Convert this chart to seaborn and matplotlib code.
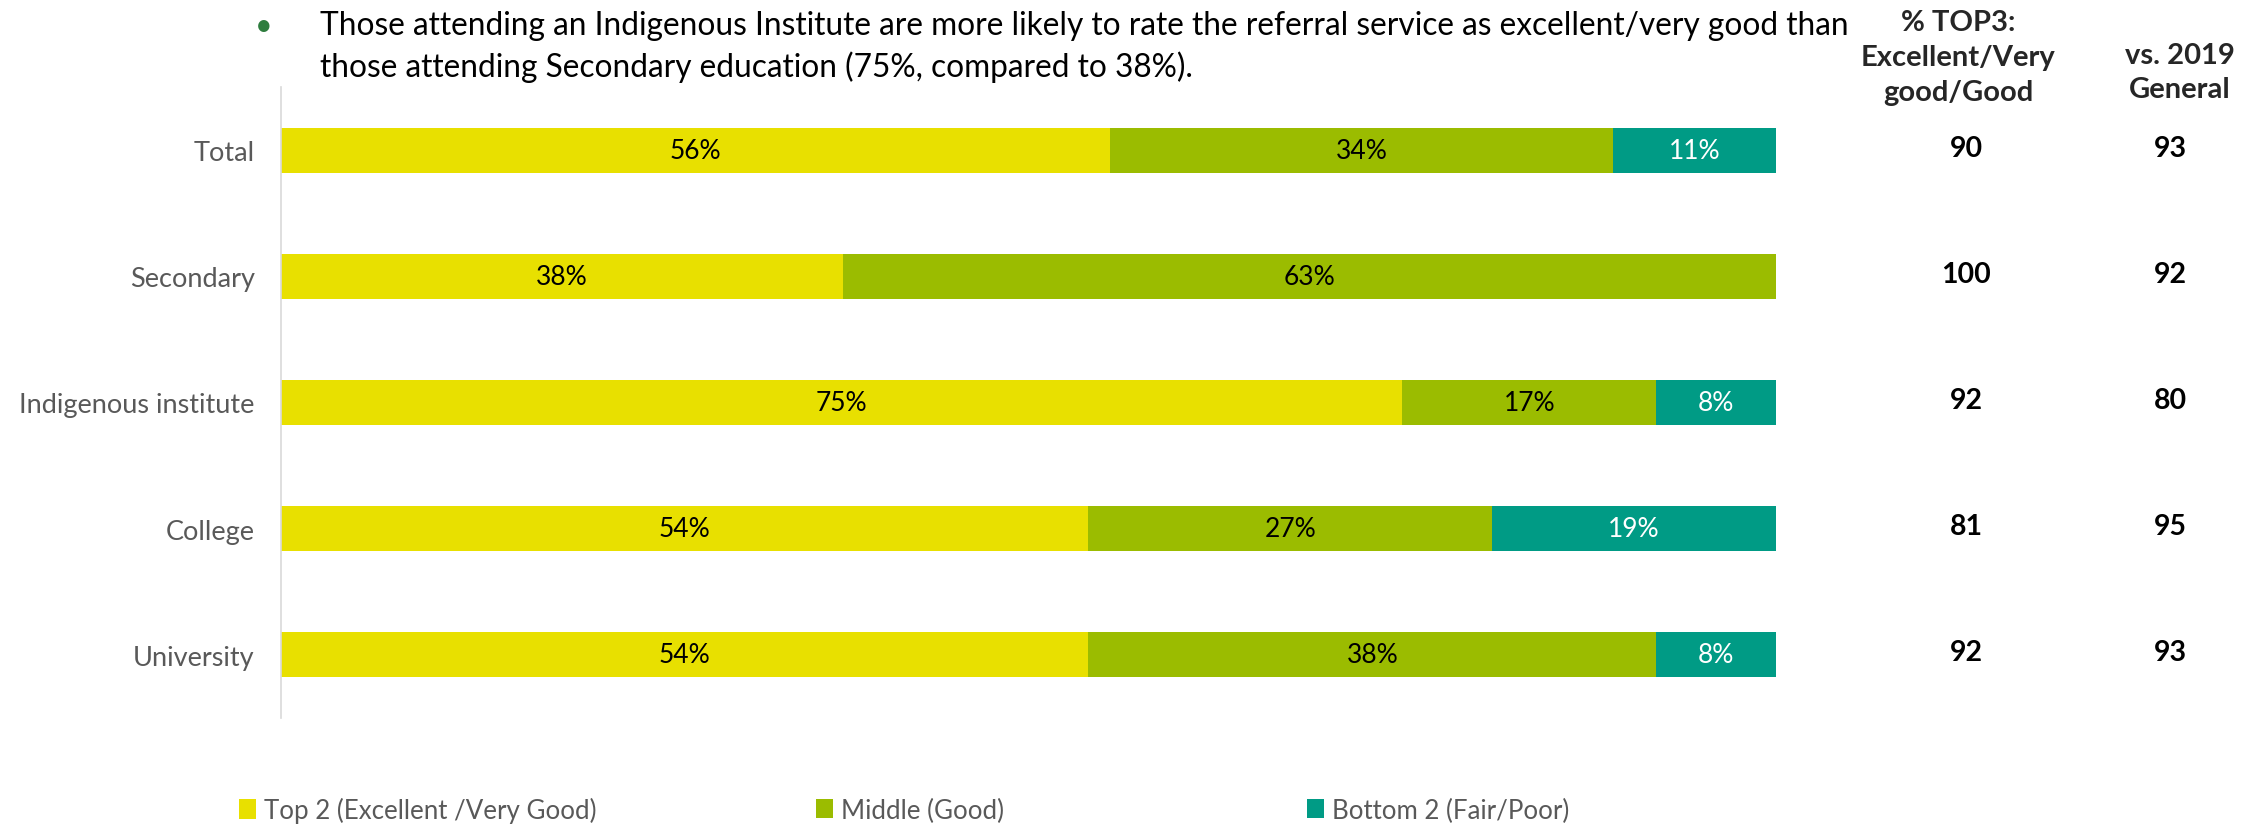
import matplotlib
matplotlib.use("Agg")
import matplotlib.pyplot as plt
import seaborn as sns
import pandas as pd
from matplotlib.patches import Patch
from matplotlib.transforms import blended_transform_factory

# Survey results: share of ratings per education group (in %)
categories = ["Total", "Secondary", "Indigenous institute", "College", "University"]
series_names = ["Top 2 (Excellent /Very Good)", "Middle (Good)", "Bottom 2 (Fair/Poor)"]
top2 = [56, 38, 75, 54, 54]
middle = [34, 63, 17, 27, 38]
bottom2 = [11, 0, 8, 19, 8]
top3_score = [90, 100, 92, 81, 92]
general_2019 = [93, 92, 80, 95, 93]

colors = ["#E8E000", "#9BBC00", "#009B85"]
label_colors = ["black", "black", "white"]

headline = ("Those attending an Indigenous Institute are more likely to rate the referral service as excellent/very good than\n"
            "those attending Secondary education (75%, compared to 38%).")
col1_header = "% TOP3:\nExcellent/Very\ngood/Good"
col2_header = "vs. 2019\nGeneral"

sns.set_theme(style="white")
plt.rcParams["font.family"] = ["Lato", "DejaVu Sans"]

df = pd.DataFrame({"category": categories, "top2": top2, "middle": middle, "bottom2": bottom2})
row_sum = df[["top2", "middle", "bottom2"]].sum(axis=1)
# 100% stacked: each row is scaled to its own total
share = df[["top2", "middle", "bottom2"]].div(row_sum, axis=0) * 100
df["c1"] = share["top2"]
df["c2"] = share["top2"] + share["middle"]
df["c3"] = share["top2"] + share["middle"] + share["bottom2"]

fig = plt.figure(figsize=(22.6, 8.28), dpi=100)
ax = fig.add_axes([281 / 2260, 1 - 719 / 828, (1776 - 281) / 2260, (719 - 88) / 828])

bar_w = 0.355
# draw cumulative totals from the outermost segment inward so each stack reads left to right
for col, c in zip(["c3", "c2", "c1"], colors[::-1]):
    sns.barplot(data=df, x=col, y="category", orient="h", color=c, saturation=1,
                width=bar_w, ax=ax, linewidth=0)

for i in range(len(categories)):
    start = 0.0
    for j, key in enumerate(["top2", "middle", "bottom2"]):
        v = df.loc[i, key]
        w = share.loc[i, key]
        if v > 0:
            ax.text(start + w / 2, i, f"{v}%", ha="center", va="center",
                    fontsize=19, color=label_colors[j])
        start += w

ax.set_xlim(0, 100)
ax.set_ylim(4.5, -0.5)
ax.set_xticks([])
ax.set_xlabel("")
ax.set_ylabel("")
for s in ["top", "right", "bottom"]:
    ax.spines[s].set_visible(False)
ax.spines["left"].set_color("#D9D9D9")
ax.spines["left"].set_linewidth(1.2)
ax.tick_params(axis="y", length=0, pad=19, labelcolor="#595959", labelsize=19.5)

# right-hand summary columns
tr = blended_transform_factory(fig.transFigure, ax.transData)
x1, x2 = 1966 / 2260, 2170 / 2260
for i in range(len(categories)):
    ax.text(x1, i - 0.02, str(top3_score[i]), transform=tr, ha="center", va="center",
            fontsize=20.5, fontweight="bold", color="black")
    ax.text(x2, i - 0.02, str(general_2019[i]), transform=tr, ha="center", va="center",
            fontsize=20.5, fontweight="bold", color="black")

fig.text(1958 / 2260, 1 - 58 / 828, col1_header, ha="center", va="center", fontsize=21,
         fontweight="bold", linespacing=1.42)
fig.text(2180 / 2260, 1 - 73 / 828, col2_header, ha="center", va="center", fontsize=21,
         fontweight="bold", linespacing=1.38)

# headline with bullet
fig.text(264 / 2260, 1 - 26 / 828, "•", ha="center", va="center", fontsize=22, color="#2E7D3E")
fig.text(320 / 2260, 1 - 47 / 828, headline, ha="left", va="center", fontsize=22.8,
         color="black", linespacing=1.38)

# legend, one entry per column
legend_x = [239, 816, 1307]
for name, c, lx in zip(series_names, colors, legend_x):
    fig.legend(handles=[Patch(facecolor=c, edgecolor="none")], labels=[name],
               loc="center left", bbox_to_anchor=(lx / 2260, 1 - 811 / 828),
               frameon=False, handlelength=0.65, handleheight=0.8, handletextpad=0.3,
               borderpad=0, borderaxespad=0, fontsize=18.6, labelcolor="#595959")

fig.savefig("out.png", dpi=100)
